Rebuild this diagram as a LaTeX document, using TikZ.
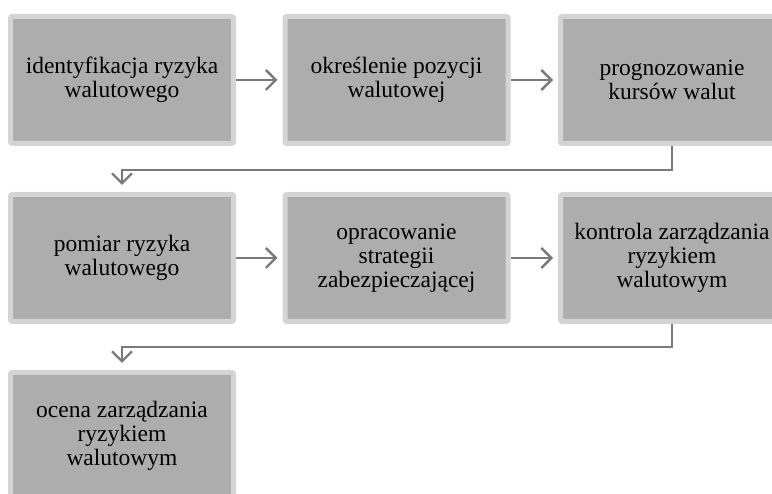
\documentclass[tikz,border=0pt]{standalone}
\usepackage{fontspec}
\setmainfont{Liberation Serif}
\usetikzlibrary{arrows.meta}
\definecolor{stepfill}{RGB}{173,173,173}
\definecolor{stepedge}{RGB}{212,212,212}
\definecolor{flowgrey}{RGB}{122,122,122}

\begin{document}
\begin{tikzpicture}[x=1pt, y=-1pt,
  every node/.style={font=\fontsize{23.5}{24}\selectfont},
  stepbox/.style={draw=stepedge, line width=5pt, fill=stepfill, rounded corners=2pt, minimum width=223pt, minimum height=127pt, align=center, inner sep=2pt},
  flow/.style={draw=flowgrey, line width=2.4pt, -{Straight Barb[length=10pt, width=20pt]}}]
\useasboundingbox (0,0) rectangle (772,494);
\clip (0,0) rectangle (772,494);
\node[stepbox] (ident) at (122,80)    {identyfikacja ryzyka\\walutowego};
\node[stepbox] (pozycja) at (396.5,80) {określenie pozycji\\walutowej};
\node[stepbox] (prognoza) at (672,80)  {prognozowanie\\kursów walut};
\node[stepbox] (pomiar) at (122,258)   {pomiar ryzyka\\walutowego};
\node[stepbox] (strategia) at (396.5,258) {opracowanie\\strategii\\zabezpieczającej};
\node[stepbox] (kontrola) at (672,258) {kontrola zarządzania\\ryzykiem\\walutowym};
\node[stepbox] (ocena) at (122,436)    {ocena zarządzania\\ryzykiem\\walutowym};
\draw[flow, shorten >=5pt] (ident.east) -- (pozycja.west);
\draw[flow, shorten >=5pt] (pozycja.east) -- (prognoza.west);
\draw[flow, shorten >=7pt] (prognoza.south) -- ++(0,24) -| (pomiar.north);
\draw[flow, shorten >=5pt] (pomiar.east) -- (strategia.west);
\draw[flow, shorten >=5pt] (strategia.east) -- (kontrola.west);
\draw[flow, shorten >=7pt] (kontrola.south) -- ++(0,23) -| (ocena.north);
\end{tikzpicture}
\end{document}
